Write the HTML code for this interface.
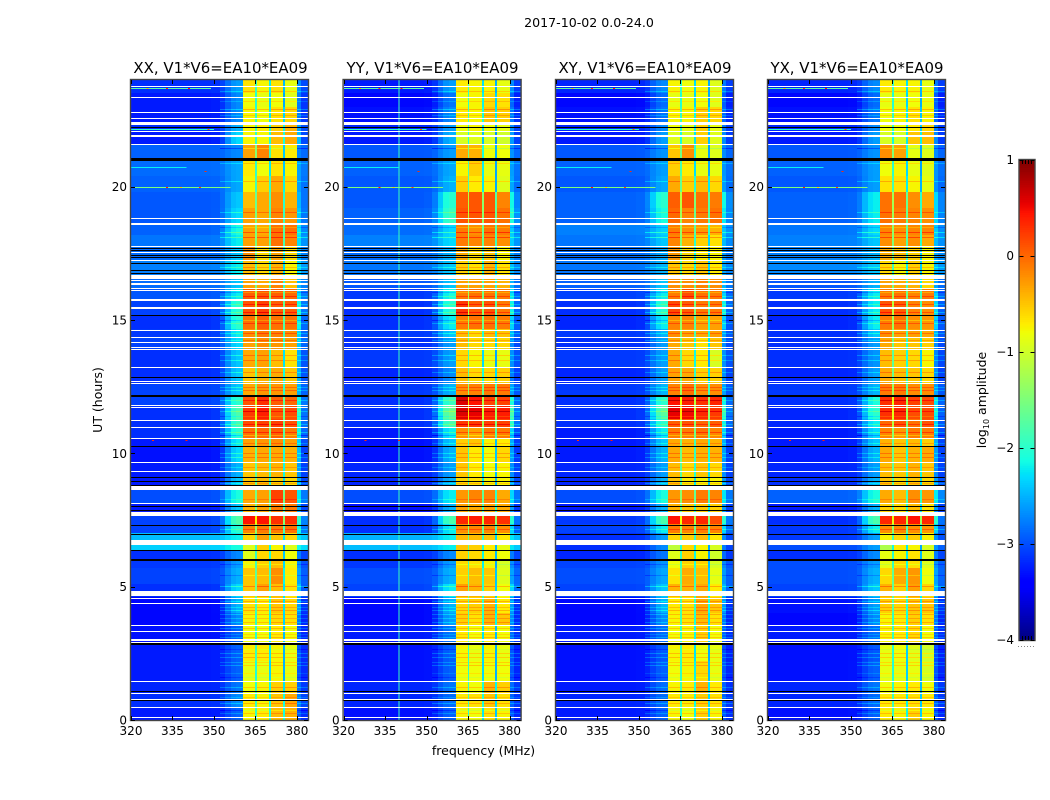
<!DOCTYPE html>
<html lang="en">
<head>
<meta charset="utf-8">
<title>2017-10-02 0.0-24.0</title>
<style>
html,body{margin:0;padding:0;background:#fff;}
svg{display:block;}
text{font-family:"DejaVu Sans","Liberation Sans",sans-serif;fill:#000;}
</style>
</head>
<body>
<svg id="figure" width="1050" height="800" viewBox="0 0 1050 800" xmlns="http://www.w3.org/2000/svg">
  <text x="589" y="27" font-size="12.6" text-anchor="middle">2017-10-02 0.0-24.0</text>
  <g id="panel-xx"></g>
  <g id="panel-yy"></g>
  <g id="panel-xy"></g>
  <g id="panel-yx"></g>
  <text x="220.5" y="73" font-size="14.95" text-anchor="middle">XX, V1*V6=EA10*EA09</text>
  <text x="432.5" y="73" font-size="14.95" text-anchor="middle">YY, V1*V6=EA10*EA09</text>
  <text x="645" y="73" font-size="14.95" text-anchor="middle">XY, V1*V6=EA10*EA09</text>
  <text x="857" y="73" font-size="14.95" text-anchor="middle">YX, V1*V6=EA10*EA09</text>
  <text transform="translate(102 400) rotate(-90)" font-size="12.5" text-anchor="middle">UT (hours)</text>
  <text x="483.5" y="755" font-size="12.5" text-anchor="middle">frequency (MHz)</text>
  <g id="colorbar"></g>
  <text transform="translate(986 400) rotate(-90)" font-size="12.5" text-anchor="middle">log<tspan font-size="8" dy="3">10</tspan><tspan dy="-3"> amplitude</tspan></text>
</svg>
<script>
// Time bin edges (UT hours)
const rowEdgesUT = [0,0.5,1,1.45,2.2,2.85,3.55,4,4.6,5.1,5.7,6,6.35,6.65,7,7.35,7.75,8.1,8.7,9.1,9.65,10.25,10.55,11,11.3,11.8,12.2,12.65,13.2,13.9,14.35,14.65,15.2,15.75,16.2,16.7,17.2,17.75,18.2,18.6,19.2,19.8,20.4,21,21.6,22.05,22.4,23,23.5,24];

// log10 amplitude per time bin: [background, shoulder, band1, band2, band3, band4]
const xxLevels = [
[-3.25,-2.9,-.75,-.7,-.45,-.4],[-3.15,-2.7,-.7,-.75,-.5,-.35],[-3.2,-2.8,-.8,-.75,-.55,-.55],[-3.25,-2.9,-.85,-.85,-.75,-.85],[-3.25,-2.9,-.7,-.7,-.75,-.85],
[-3.3,-2.9,-.8,-.8,-.7,-.8],[-3.35,-2.7,-.75,-.75,-.6,-.65],[-3.35,-2.5,-.65,-.7,-.5,-.6],[-3.15,-2.3,-.5,-.3,-.45,-.65],[-3.05,-2.5,-.5,-.45,-.2,-.7],
[-3.1,-2.6,-.75,-.55,-.45,-.75],[-3.15,-2.7,-.9,-.6,-.6,-.8],[-2.35,-2.1,-.9,-.55,-.75,-.9],[-2.45,-2.2,-.6,-.3,-.5,-.6],[-3.05,-2,-.15,-.1,-.1,-.05],
[-3.05,-1.75,.45,.45,.3,.3],[-3.25,-2.4,-.4,-.3,-.1,-.1],[-3,-2.1,-.35,-.3,.2,.1],[-3.25,-2.4,-.5,-.45,-.55,-.6],[-3.25,-2.5,-.5,-.45,-.4,-.5],
[-3.3,-2.3,-.4,-.35,-.35,-.4],[-3.25,-2.2,-.3,-.25,-.2,-.3],[-3.15,-2,-.05,0,.05,-.1],[-3.15,-1.9,.15,.2,.2,.1],[-3.15,-1.8,.25,.4,.1,.15],
[-3.05,-2,.1,.3,.05,0],[-3.05,-2.4,-.35,-.25,-.25,-.3],[-3.15,-2.4,-.5,-.4,-.35,-.5],[-3.15,-2.4,-.35,-.3,-.45,-.65],[-3.05,-2.3,-.3,-.2,-.25,-.3],
[-3.1,-2.2,-.2,-.1,-.15,-.2],[-3.15,-2,-.05,.05,-.05,-.05],[-3.05,-2,.1,.2,.05,.05],[-2.95,-2.2,.05,.1,.05,0],[-2.85,-2.4,-.3,-.35,-.15,-.45],
[-2.75,-2.2,-.45,-.6,-.4,-.75],[-2.85,-2.4,-.2,-.6,-.3,-.6],[-2.8,-2.2,-.3,-.3,-.05,-.15],[-2.9,-2.1,-.3,-.35,-.05,-.05],[-2.95,-2.3,-.3,-.35,-.15,-.25],
[-2.95,-2.4,-.45,-.35,-.2,-.4],[-2.9,-2.55,-.75,-.55,-.35,-.6],[-2.85,-2.55,-.7,-.8,-.65,-.75],[-2.9,-2.7,-.3,-.15,-.65,-.7],[-3.25,-2.3,-.75,-.75,-.45,-.35],
[-3.15,-2.5,-.75,-.7,-.55,-.4],[-3.25,-2.7,-.75,-.8,-.65,-.6],[-3.25,-2.7,-.8,-.85,-.8,-.9],[-3.15,-2.6,-.65,-.75,-.65,-.85]
];
const yyLevels = [
[-3.3,-2.9,-.75,-.8,-.65,-.75],[-3.2,-2.85,-.7,-.65,-.5,-.65],[-3.2,-2.8,-.75,-.8,-.4,-.55],[-3.3,-2.9,-.8,-.8,-.8,-.8],[-3.3,-2.9,-.75,-.85,-.75,-.85],
[-3.25,-2.8,-.7,-.8,-.7,-.8],[-3.35,-2.6,-.55,-.65,-.4,-.5],[-3.35,-2.5,-.6,-.55,-.4,-.7],[-3.05,-2.2,-.3,-.4,-.55,-.8],[-3,-2.5,-.55,-.45,-.5,-.9],
[-3.1,-2.6,-.6,-.65,-.75,-.95],[-3.15,-2.7,-.55,-.6,-.7,-.8],[-2.45,-2.2,-.5,-.55,-.7,-.85],[-2.5,-2.2,-.45,-.45,-.5,-.7],[-3.15,-2.2,-.2,-.15,-.15,-.2],
[-3.15,-1.8,.35,.4,.35,.3],[-3.3,-2.5,-.3,-.35,-.3,-.35],[-3,-2.2,-.25,-.15,-.15,-.35],[-3.2,-2.5,-.6,-.65,-.75,-.75],[-3.2,-2.6,-.5,-.7,-.8,-.75],
[-3.3,-2.5,-.5,-.7,-.8,-.6],[-3.3,-2.4,-.55,-.5,-.75,-.7],[-3.25,-2.2,-.2,-.3,-.1,-.1],[-3.15,-1.8,.25,.25,.2,.2],[-3.15,-1.6,.6,.55,.4,.4],
[-3.15,-1.9,.6,.45,.2,.2],[-3.1,-2.5,-.2,-.15,-.1,-.1],[-3.2,-2.7,-.45,-.6,-.6,-.55],[-3.1,-2.6,-.6,-.75,-.85,-.85],[-3.15,-2.6,-.45,-.6,-.6,-.6],
[-3.1,-2.4,-.45,-.6,-.45,-.5],[-3.15,-2.2,-.1,-.05,-.05,-.1],[-3.15,-2,.25,.05,.1,-.1],[-3.1,-2.1,-.1,-.05,-.05,-.1],[-2.95,-2.4,-.3,-.3,-.3,-.4],
[-2.8,-2.4,-.55,-.65,-.4,-.65],[-2.85,-2.5,-.35,-.6,-.5,-.75],[-2.75,-2.3,-.1,-.15,-.15,-.2],[-2.85,-2.3,-.1,-.2,-.05,-.1],[-2.9,-1.9,.1,.1,.1,-.05],
[-2.95,-2,.05,.1,.1,-.15],[-2.95,-2.5,-.55,-.7,-.75,-.9],[-2.9,-2.55,-.75,-.55,-.85,-.85],[-2.95,-2.6,-.35,-.4,-.8,-.8],[-3.25,-2.5,-.95,-.9,-.95,-1],
[-3.2,-2.6,-.8,-.75,-.8,-.85],[-3.3,-2.7,-.7,-.75,-.5,-.55],[-3.35,-2.8,-.8,-.75,-.6,-.65],[-3.25,-2.6,-.7,-.75,-.75,-.85]
];
const xyLevels = [
[-3.25,-2.9,-.75,-.8,-.55,-.75],[-3.2,-2.85,-.7,-.7,-.55,-.65],[-3.25,-2.85,-.75,-.7,-.4,-.7],[-3.3,-2.9,-.8,-.75,-.6,-.85],[-3.3,-2.95,-.75,-.7,-.8,-.85],
[-3.25,-2.85,-.8,-.75,-.55,-.8],[-3.35,-2.7,-.75,-.65,-.45,-.65],[-3.35,-2.5,-.7,-.65,-.35,-.5],[-3.05,-2.4,-.4,-.4,-.35,-.7],[-3,-2.55,-.65,-.35,-.45,-.85],
[-3.05,-2.65,-.8,-.55,-.55,-.95],[-3.2,-2.8,-.9,-.55,-.75,-1],[-3.15,-2.7,-1.1,-.6,-.75,-.95],[-3.15,-2.6,-.6,-.55,-.45,-.7],[-3.05,-2.2,-.1,-.15,-.1,-.15],
[-3.1,-1.8,.45,.35,.35,.15],[-3.25,-2.5,-.4,-.5,-.5,-.55],[-3,-2.1,-.25,-.2,-.1,-.15],[-3.2,-2.5,-.5,-.7,-.75,-.75],[-3.2,-2.6,-.45,-.6,-.5,-.6],
[-3.25,-2.5,-.35,-.45,-.4,-.4],[-3.25,-2.4,-.35,-.4,-.35,-.4],[-3.25,-2.2,-.1,-.1,-.05,-.15],[-3.15,-2,.05,.1,0,.05],[-3.15,-1.7,.55,.5,.35,.25],
[-3.15,-2,.45,.4,.3,.35],[-3.1,-2.5,-.15,-.05,-.2,-.2],[-3.2,-2.6,-.3,-.35,-.55,-.55],[-3.1,-2.6,-.35,-.6,-.7,-.95],[-3.15,-2.6,-.35,-.5,-.65,-.5],
[-3.1,-2.5,-.2,-.3,-.35,-.3],[-3.2,-2.2,-.15,-.15,-.3,-.3],[-3.15,-2,.15,.05,-.1,-.1],[-3.05,-2.2,-.1,.15,-.05,-.1],[-2.9,-2.4,-.2,-.2,-.15,-.2],
[-2.8,-2.5,-.5,-.6,-.5,-.7],[-2.85,-2.55,-.25,-.6,-.7,-.75],[-2.8,-2.4,-.15,-.4,-.55,-.65],[-2.75,-2.35,-.1,-.2,-.25,-.4],[-2.9,-2.1,0,-.15,-.1,-.05],
[-2.9,-2,.05,.1,-.05,-.1],[-2.95,-2.55,-.35,-.55,-.45,-.6],[-2.9,-2.6,-.55,-.7,-.85,-.85],[-2.95,-2.65,-.5,-.2,-.85,-.9],[-3.25,-2.6,-.9,-.95,-.55,-.9],
[-3.2,-2.7,-.8,-.85,-.55,-.85],[-3.3,-2.8,-.75,-.75,-.55,-.6],[-3.35,-2.85,-.85,-.85,-.8,-.9],[-3.2,-2.7,-.75,-.8,-.75,-.9]
];
const yxLevels = [
[-3.3,-2.9,-.7,-.75,-.55,-.75],[-3.2,-2.85,-.7,-.7,-.65,-.7],[-3.2,-2.8,-.8,-.75,-.7,-.8],[-3.3,-2.9,-.85,-.85,-.85,-.95],[-3.3,-2.95,-.85,-.8,-.9,-1],
[-3.25,-2.85,-.75,-.7,-.6,-.8],[-3.35,-2.7,-.75,-.7,-.55,-.65],[-3.3,-2.6,-.55,-.6,-.5,-.5],[-3.05,-2.4,-.4,-.55,-.3,-.6],[-3,-2.5,-.6,-.35,-.25,-.8],
[-3,-2.6,-.85,-.6,-.65,-.9],[-3.15,-2.7,-.85,-.75,-.65,-.9],[-3,-2.6,-1.2,-.7,-.75,-.95],[-3.1,-2.6,-.75,-.6,-.55,-.75],[-3.1,-2.2,-.2,-.15,-.2,-.25],
[-3.15,-1.8,.35,.35,.45,.35],[-3.25,-2.5,-.55,-.6,-.45,-.65],[-2.9,-2.1,-.35,-.45,-.2,-.25],[-3.15,-2.5,-.5,-.6,-.5,-.6],[-3.2,-2.6,-.45,-.5,-.4,-.5],
[-3.25,-2.5,-.35,-.5,-.4,-.35],[-3.25,-2.4,-.4,-.5,-.45,-.55],[-3.25,-2.3,-.15,-.25,-.1,-.1],[-3.2,-2.2,0,.1,-.05,.1],[-3.2,-2,.3,.35,.15,.15],
[-3.15,-2.1,.3,.35,.2,.15],[-3.1,-2.5,-.1,-.1,-.2,-.2],[-3.2,-2.6,-.35,-.45,-.5,-.6],[-3.15,-2.65,-.45,-.55,-.6,-.75],[-3.15,-2.6,-.35,-.5,-.5,-.55],
[-3.15,-2.4,-.2,-.3,-.3,-.35],[-3.2,-2.2,-.1,-.05,-.2,-.25],[-3.15,-2.2,.1,.05,-.15,-.2],[-3.1,-2.2,-.1,-.05,-.15,-.1],[-2.95,-2.5,-.3,-.35,-.4,-.6],
[-2.7,-2.4,-.6,-.75,-.55,-.75],[-2.75,-2.5,-.35,-.45,-.55,-.75],[-2.75,-2.4,-.2,-.3,-.2,-.35],[-2.8,-2.3,-.15,-.2,-.15,-.15],[-2.9,-2.2,-.05,-.1,-.15,-.2],
[-2.9,-2.2,-.05,-.05,-.2,-.35],[-2.95,-2.6,-.65,-.65,-.75,-.85],[-2.9,-2.6,-.8,-.75,-.85,-.9],[-2.95,-2.65,-.2,-.3,-.85,-.9],[-3.25,-2.6,-.95,-.95,-.5,-.45],
[-3.2,-2.7,-.8,-.8,-.7,-.6],[-3.3,-2.8,-.8,-.75,-.65,-.75],[-3.35,-2.85,-.85,-.85,-.8,-.85],[-3.2,-2.7,-.7,-.75,-.75,-.85]
];

// Frequency channel edges (MHz) and how each channel reads the row values
const channelEdgesMHz = [320,344,349,352,354,356,358,360.5,364.8,365.5,369.9,370.6,374.9,375.6,380,381.5,384];
const channelBand = [-1,-1,-1,-1,-1,-1,-1,0,-2,1,-2,2,-2,3,-1,-1];
const channelShoulderShare = [0,0,.03,.2,.6,.9,1,0,0,0,0,0,0,0,.85,.25];
const notchDepth = [0,0,0,0,0,0,0,0,1.2,0,1.5,0,1.7,0,0,0];

// Narrow amplitude streaks [UT hours, log10 offset] seen across the bands and shoulder
const bandStreaks = [
[.25,.25],[.37,-.2],[.62,.3],[.86,.2],[1.25,.3],[1.6,-.15],[1.78,.15],[2.06,.3],[2.18,.25],[2.37,.3],[2.52,.3],[2.68,-.15],
[3.12,.3],[3.24,.2],[3.46,.3],[3.69,.3],[3.81,.25],[3.97,.3],[4.12,.3],[4.25,.25],[4.47,.3],
[5.02,.35],[5.42,-.2],[5.85,-.2],[7.15,.3],[8.3,.2],[8.9,.25],
[9.12,.3],[9.5,.25],[9.87,.3],[10,.3],[10.37,.25],[10.67,-.3],[10.8,.35],[11.1,.3],[11.4,-.2],[11.6,.3],[12,.3],[12.38,.3],[12.5,.3],
[13.06,.3],[13.5,.3],[13.7,.3],[14.25,.25],[14.5,.3],[14.9,.3],[15,-.25],[15.3,.35],[15.6,.3],[15.9,.3],[16.05,-.25],[16.4,.3],
[17,.3],[17.45,.25],[18.1,.4],[18.3,.4],[18.5,-.2],[19.05,.3],[20.2,.3],[20.9,.25],[21.45,-.3],[22.25,.3],[22.7,.25],[22.9,.35],[23.2,.2],[23.6,.3]
];

// Flagged time ranges [start, end] in UT hours: missing (white) and zero (black) data
const whiteGapsUT = [[.08,.12],[.46,.5],[.76,.8],[.98,1.02],[1.41,1.48],[2.88,2.92],[2.98,3.02],[3.29,3.33],[3.54,3.58],[4.35,4.39],[4.54,4.58],[4.65,4.84],[6.58,6.62],[6.64,6.75],[7.65,7.81],[8.1,8.14],[8.62,8.77],[9.3,9.34],[9.64,9.68],[10.52,10.56],[10.95,10.99],[11.22,11.26],[11.7,11.74],[11.77,11.81],[12.6,12.64],[12.67,12.71],[13.2,13.24],[13.88,13.92],[13.95,13.99],[14.12,14.16],[14.33,14.37],[14.59,14.63],[15.43,15.47],[15.73,15.77],[16.08,16.12],[16.17,16.21],[16.33,16.37],[16.45,16.49],[16.54,16.69],[17.2,17.24],[17.5,17.54],[17.73,17.77],[18.58,18.62],[18.77,18.81],[21.57,21.61],[21.88,21.92],[22.04,22.08],[22.33,22.44],[22.54,22.58],[22.77,22.81],[23.33,23.37],[23.75,23.79]];
const blackGapsUT = [[.7,.74],[1.05,1.09],[2.83,2.87],[5.96,6.04],[6.35,6.39],[6.94,6.98],[7.28,7.32],[7.83,7.87],[8,8.04],[8.79,8.83],[8.92,8.96],[9.07,9.11],[10.23,10.27],[12.13,12.17],[12.82,12.86],[15.14,15.18],[16.72,16.78],[16.83,16.87],[17.1,17.14],[17.33,17.37],[17.39,17.43],[17.58,17.62],[17.66,17.7],[20.96,21.08],[22.2,22.24]];

// Interference rows [UT, start MHz, end MHz, level] and spots [UT, MHz, level]
const rfiRows = [[23.69,320,349,-1.7],[22.17,320,350,-2],[20.72,320,340,-2.2],[19.97,320,356,-1.5]];
const rfiSpots = [[23.69,333,.3],[23.69,341,.4],[23.69,326,-.4],[19.97,333,.4],[19.97,345,.2],[19.97,338,-.5],[22.17,348,.1],[10.5,340,.4],[10.5,328,.3],[20.6,347,.3]];
// Constant-frequency spur [MHz, level] per panel
const xxSpurs = [];
const yySpurs = [[340,-1.9]];
const xySpurs = [];
const yxSpurs = [];

// Axis ticks
const freqTicks = [320,335,350,365,380];
const timeTicks = [0,5,10,15,20];
const colorTicks = [1,0,-1,-2,-3,-4];
const colorTickLabels = ['1','0','\u22121','\u22122','\u22123','\u22124'];

const SVGNS = 'http://www.w3.org/2000/svg';
const PLOT_TOP = 80, PLOT_BOTTOM = 720, PLOT_WIDTH = 177;
const FREQ_MIN = 320, FREQ_MAX = 384, UT_MIN = 0, UT_MAX = 24;
const SCALE_MIN = -4, SCALE_MAX = 1;

function freqToX(left, mhz) { return left + (mhz - FREQ_MIN) / (FREQ_MAX - FREQ_MIN) * PLOT_WIDTH; }
function utToY(ut) { return PLOT_BOTTOM - (ut - UT_MIN) / (UT_MAX - UT_MIN) * (PLOT_BOTTOM - PLOT_TOP); }
function levelToY(v) { return 640 - (v - SCALE_MIN) / (SCALE_MAX - SCALE_MIN) * 480; }
function jetChannel(f, pts) {
  for (let i = 1; i < pts.length; i++) {
    if (f <= pts[i][0]) {
      const t = (f - pts[i-1][0]) / (pts[i][0] - pts[i-1][0]);
      return pts[i-1][1] + t * (pts[i][1] - pts[i-1][1]);
    }
  }
  return pts[pts.length-1][1];
}
function jet(v) {
  const f = Math.max(0, Math.min(1, (v - SCALE_MIN) / (SCALE_MAX - SCALE_MIN)));
  const r = jetChannel(f, [[0,0],[.35,0],[.66,1],[.89,1],[1,.5]]);
  const g = jetChannel(f, [[0,0],[.125,0],[.375,1],[.64,1],[.91,0],[1,0]]);
  const b = jetChannel(f, [[0,.5],[.11,1],[.34,1],[.65,0],[1,0]]);
  return 'rgb(' + Math.round(r*255) + ',' + Math.round(g*255) + ',' + Math.round(b*255) + ')';
}
function rectEl(parent, x, y, w, h, fill) {
  const el = document.createElementNS(SVGNS, 'rect');
  el.setAttribute('x', x.toFixed(2));
  el.setAttribute('y', y.toFixed(2));
  el.setAttribute('width', Math.max(w, .5).toFixed(2));
  el.setAttribute('height', Math.max(h, .5).toFixed(2));
  el.setAttribute('fill', fill);
  el.setAttribute('shape-rendering', 'crispEdges');
  parent.appendChild(el);
  return el;
}
function lineEl(parent, x1, y1, x2, y2) {
  const el = document.createElementNS(SVGNS, 'line');
  el.setAttribute('x1', x1);
  el.setAttribute('y1', y1);
  el.setAttribute('x2', x2);
  el.setAttribute('y2', y2);
  el.setAttribute('stroke', '#000');
  el.setAttribute('stroke-width', '1');
  parent.appendChild(el);
  return el;
}
function textEl(parent, x, y, str, anchor) {
  const el = document.createElementNS(SVGNS, 'text');
  el.setAttribute('x', x);
  el.setAttribute('y', y);
  el.setAttribute('font-size', '12');
  el.setAttribute('text-anchor', anchor);
  el.textContent = str;
  parent.appendChild(el);
  return el;
}
function cellLevel(row, c) {
  const band = channelBand[c];
  if (band >= 0) return row[band + 2];
  if (band === -2) {
    const leftBand = channelBand[c-1], rightBand = channelBand[c+1];
    return (row[leftBand + 2] + row[rightBand + 2]) / 2 - notchDepth[c];
  }
  const w = channelShoulderShare[c];
  return row[0] * (1 - w) + row[1] * w;
}
function rowIndexAt(ut) {
  for (let r = 0; r < rowEdgesUT.length - 1; r++) {
    if (ut < rowEdgesUT[r+1]) return r;
  }
  return rowEdgesUT.length - 2;
}
function drawPanel(group, left, levels, spurs) {
  for (let r = 0; r < levels.length; r++) {
    const yTop = Math.round(utToY(rowEdgesUT[r+1]));
    const yBot = Math.round(utToY(rowEdgesUT[r]));
    for (let c = 0; c < channelBand.length; c++) {
      const x0 = Math.round(freqToX(left, channelEdgesMHz[c]));
      const x1 = Math.round(freqToX(left, channelEdgesMHz[c+1]));
      const cell = rectEl(group, x0, yTop, x1 - x0, yBot - yTop, jet(cellLevel(levels[r], c)));
      
      
    }
  }
  bandStreaks.forEach(function (s) {
    const row = levels[rowIndexAt(s[0])];
    const y = Math.round(utToY(s[0]));
    for (let c = 3; c < channelBand.length; c++) {
      if (channelBand[c] === -2) continue;
      const x0 = Math.round(freqToX(left, channelEdgesMHz[c]));
      const x1 = Math.round(freqToX(left, channelEdgesMHz[c+1]));
      const streak = rectEl(group, x0, y, x1 - x0, 1, jet(cellLevel(row, c) + s[1]));
      
      
    }
  });
  spurs.forEach(function (s) {
    const spur = rectEl(group, freqToX(left, s[0]) - .5, PLOT_TOP, 1, PLOT_BOTTOM - PLOT_TOP, jet(s[1]));
    
    
  });
  rfiRows.forEach(function (s) {
    const x0 = freqToX(left, s[1]);
    const rfi = rectEl(group, x0, Math.round(utToY(s[0])), freqToX(left, s[2]) - x0, 1, jet(s[3]));
    
    
  });
  rfiSpots.forEach(function (s) {
    const spot = rectEl(group, freqToX(left, s[1]) - 1, Math.round(utToY(s[0])), 2, 1, jet(s[2]));
    
    
  });
  whiteGapsUT.forEach(function (g) {
    const yTop = Math.round(utToY(g[1]));
    const gap = rectEl(group, left, yTop, PLOT_WIDTH, Math.max(Math.round(utToY(g[0])) - yTop, 1), '#fff');
    
    
  });
  blackGapsUT.forEach(function (g) {
    const yTop = Math.round(utToY(g[1]));
    const gap = rectEl(group, left, yTop, PLOT_WIDTH, Math.max(Math.round(utToY(g[0])) - yTop, 1), '#000');
    
    
  });
  const frame = document.createElementNS(SVGNS, 'rect');
  frame.setAttribute('x', left - .5);
  frame.setAttribute('y', PLOT_TOP - .5);
  frame.setAttribute('width', PLOT_WIDTH + 1);
  frame.setAttribute('height', PLOT_BOTTOM - PLOT_TOP + 1);
  frame.setAttribute('fill', 'none');
  frame.setAttribute('stroke', '#444');
  frame.setAttribute('stroke-width', '1.4');
  
  
  group.appendChild(frame);
  freqTicks.forEach(function (t) {
    const x = Math.round(freqToX(left, t)) + .5;
    const top = lineEl(group, x, PLOT_TOP, x, PLOT_TOP + 4);
    
    
    const bottom = lineEl(group, x, PLOT_BOTTOM, x, PLOT_BOTTOM - 4);
    
    
    const label = textEl(group, freqToX(left, t), 735, String(t), 'middle');
    
    
  });
  timeTicks.forEach(function (t) {
    const y = Math.round(utToY(t)) + .5;
    const leftTick = lineEl(group, left, y, left + 4, y);
    
    
    const rightTick = lineEl(group, left + PLOT_WIDTH, y, left + PLOT_WIDTH - 4, y);
    
    
    const label = textEl(group, left - 4, utToY(t) + 4.5, String(t), 'end');
    
    
  });
}
function drawColorbar(group) {
  const left = 1019.5, width = 15;
  for (let i = 0; i < 256; i++) {
    const v0 = SCALE_MIN + (SCALE_MAX - SCALE_MIN) * i / 256;
    const v1 = SCALE_MIN + (SCALE_MAX - SCALE_MIN) * (i + 1) / 256;
    const step = rectEl(group, left, levelToY(v1), width, levelToY(v0) - levelToY(v1) + .5, jet((v0 + v1) / 2));
    
    
  }
  const frame = document.createElementNS(SVGNS, 'rect');
  frame.setAttribute('x', left - .5);
  frame.setAttribute('y', 159.5);
  frame.setAttribute('width', width + 1);
  frame.setAttribute('height', 481);
  frame.setAttribute('fill', 'none');
  frame.setAttribute('stroke', '#444');
  frame.setAttribute('stroke-width', '1.4');
  
  
  group.appendChild(frame);
  colorTicks.forEach(function (t, i) {
    const y = Math.round(levelToY(t)) + .5;
    const a = lineEl(group, left, y, left + 4, y);
    
    
    const b = lineEl(group, left + width, y, left + width - 4, y);
    
    
    const label = textEl(group, 1014, levelToY(t) + 4, colorTickLabels[i], 'end');
    
    
  });
  for (let k = 1; k < 5; k++) {
    const x = Math.floor(left) + k * 3 + .5;
    const t1 = lineEl(group, x, 160, x, 164);
    
    
    const t2 = lineEl(group, x, 640, x, 636);
    
    
  }
  const dots = lineEl(group, 1018, 646.5, 1034, 646.5);
  dots.setAttribute('stroke', '#888');
  dots.setAttribute('stroke-dasharray', '1 2');
  
  
}
drawPanel(document.getElementById('panel-xx'), 131, xxLevels, xxSpurs);
drawPanel(document.getElementById('panel-yy'), 343.6, yyLevels, yySpurs);
drawPanel(document.getElementById('panel-xy'), 556, xyLevels, xySpurs);
drawPanel(document.getElementById('panel-yx'), 768, yxLevels, yxSpurs);
drawColorbar(document.getElementById('colorbar'));
</script>
</body>
</html>
